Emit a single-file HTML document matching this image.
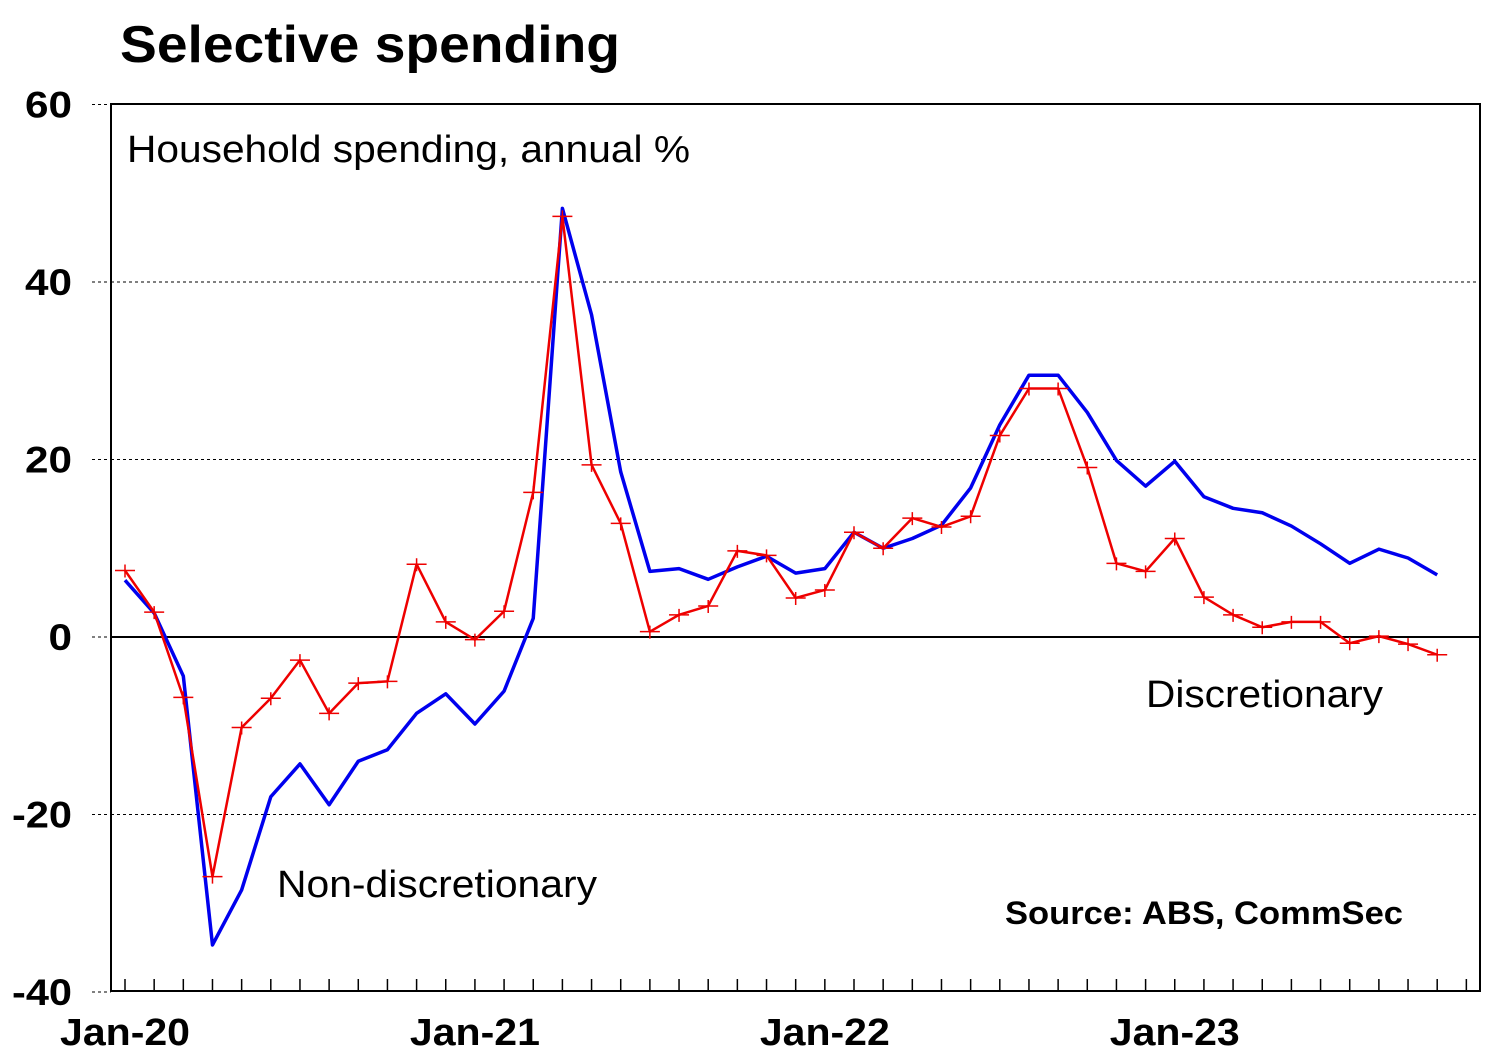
<!DOCTYPE html>
<html><head><meta charset="utf-8"><style>
html,body{margin:0;padding:0;background:#fff;}
svg{display:block;font-family:"Liberation Sans",Arial,sans-serif;}
</style></head><body>
<svg id="chart" width="1496" height="1061" viewBox="0 0 1496 1061">
<text x="120" y="62" font-size="52" font-weight="bold" textLength="500" lengthAdjust="spacingAndGlyphs">Selective spending</text>
<rect x="111" y="104" width="1369" height="887" fill="none" stroke="#000" stroke-width="2"/>
<g id="grid"></g><g id="ticks"></g><g id="series"></g>
<text x="127" y="162" font-size="38" textLength="563" lengthAdjust="spacingAndGlyphs">Household spending, annual %</text>
<text x="277" y="897" font-size="38" textLength="320" lengthAdjust="spacingAndGlyphs">Non-discretionary</text>
<text x="1146" y="707" font-size="38" textLength="237" lengthAdjust="spacingAndGlyphs">Discretionary</text>
<text x="1005" y="924" font-size="32" font-weight="bold" textLength="398" lengthAdjust="spacingAndGlyphs">Source: ABS, CommSec</text>
</svg>
<script>
const yTicks=[60,40,20,0,-20,-40];
const xLabels=["Jan-20","Jan-21","Jan-22","Jan-23"];
const discretionary=[7.5,2.8,-6.8,-27,-10.2,-6.9,-2.6,-8.6,-5.2,-5,8.2,1.7,-0.3,2.9,16.3,47.4,19.4,12.8,0.6,2.5,3.5,9.7,9.2,4.4,5.3,11.8,10,13.4,12.4,13.6,22.7,28,28,19.1,8.3,7.4,11.1,4.5,2.5,1.1,1.7,1.7,-0.7,0.1,-0.8,-2];
const nonDiscretionary=[6.4,2.7,-4.4,-34.7,-28.5,-18,-14.3,-18.9,-14,-12.7,-8.6,-6.4,-9.8,-6.1,2.1,48.3,36.3,18.6,7.4,7.7,6.5,7.9,9.1,7.2,7.7,11.8,10,11.1,12.6,16.8,23.9,29.5,29.5,25.3,19.9,17,19.8,15.8,14.5,14,12.5,10.5,8.3,9.9,8.9,7];
const NS="http://www.w3.org/2000/svg";
function y(v){return 637-v*8.875;}
function x(i){return 125+i*29.16;}
function mk(tag,attrs,parent){const e=document.createElementNS(NS,tag);for(const k in attrs)e.setAttribute(k,attrs[k]);parent.appendChild(e);return e;}
const grid=document.getElementById('grid'),ticks=document.getElementById('ticks'),series=document.getElementById('series');
yTicks.forEach(v=>{
  const yy=y(v);
  if(v!==60&&v!==-40){
    const l=mk('line',{x1:111,x2:1480,y1:yy,y2:yy,stroke:'#000','stroke-width':v===0?2:1,'stroke-dasharray':v===0?'':'3,3'},grid);
    
    
  }
  const s=mk('line',{x1:92,x2:111,y1:yy,y2:yy,stroke:'#000','stroke-width':1,'stroke-dasharray':'3,3'},grid);
  
  
  const str=String(v);
  const w=str.replace('-','').length*23.5+(v<0?13:0);
  const t=mk('text',{x:72-w,y:yy+13,'font-size':37,'font-weight':'bold',textLength:w,lengthAdjust:'spacingAndGlyphs'},ticks);
  t.textContent=str;
  
  
});
for(let i=0;i<47;i++){
  const xx=x(i);if(xx>1478)break;
  const l=mk('line',{x1:xx,x2:xx,y1:979,y2:991,stroke:'#000','stroke-width':1.5},ticks);
  
  
}
xLabels.forEach((s,k)=>{
  const t=mk('text',{x:x(k*12)-65,y:1045,'font-size':38,'font-weight':'bold',textLength:130,lengthAdjust:'spacingAndGlyphs'},ticks);
  t.textContent=s;
  
  
});
const pb=mk('polyline',{points:nonDiscretionary.map((v,i)=>x(i)+','+y(v)).join(' '),fill:'none',stroke:'#0000ee','stroke-width':3.5,'stroke-linejoin':'round'},series);


const pr=mk('polyline',{points:discretionary.map((v,i)=>x(i)+','+y(v)).join(' '),fill:'none',stroke:'#ee0000','stroke-width':2.5,'stroke-linejoin':'round'},series);


discretionary.forEach((v,i)=>{
  const xx=x(i),yy=y(v);
  const m=mk('path',{d:`M${xx-10},${yy}H${xx+10}M${xx},${yy-6}V${yy+7}`,stroke:'#ee0000','stroke-width':1.5},series);
  
  
});
</script>
</body></html>
